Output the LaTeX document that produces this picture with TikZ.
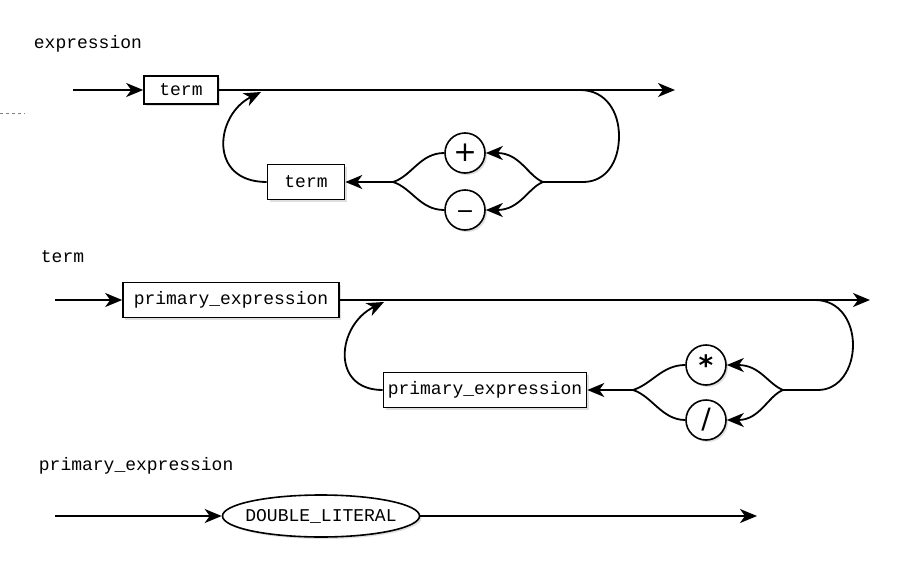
\documentclass[tikz,border=0pt]{standalone}
\usepackage{fontspec}
\setmonofont{Liberation Mono}
\newfontfamily\symfont{DejaVu Sans}
\usetikzlibrary{arrows.meta,shapes.geometric,shadows}

\tikzset{
    rulename/.style={font=\fontsize{18}{20}\selectfont\ttfamily, anchor=west, inner sep=0pt},
    nonterm/.style={draw, line width=1.6pt, fill=white, font=\fontsize{18}{20}\selectfont\ttfamily,
        minimum height=35pt, inner sep=1pt,
        drop shadow={shadow xshift=2pt, shadow yshift=-2pt, opacity=0.25}},
    literal/.style={nonterm, ellipse, inner xsep=-6pt, inner ysep=6pt},
    op/.style={draw, circle, line width=1.6pt, fill=white, minimum size=40pt, inner sep=0pt,
        font=\fontsize{28}{28}\selectfont\symfont,
        drop shadow={shadow xshift=2pt, shadow yshift=-2pt, opacity=0.25}},
}

\begin{document}
\begin{tikzpicture}[x=1pt,y=-1pt,line width=1.8pt,>={Stealth[length=17pt,width=14pt,inset=5pt]}]
    \useasboundingbox (0,0) rectangle (905,562);
    % stray mark at the left edge
    \draw[gray,dashed,line width=0.6pt] (0,113) -- (25,113);

    % expression
    \node[rulename] (lbl1) at (33,44) {expression};
    \coordinate (e0) at (73,90);
    \coordinate (e1) at (675,90);
    \coordinate (e2) at (580,90);
    \coordinate (r1) at (543,182);
    \coordinate (l1) at (393,182);
    \coordinate (back1) at (261,92);
    \node[nonterm, minimum width=74pt, minimum height=28pt] (term1) at (181,90) {term};
    \node[nonterm, minimum width=77pt] (term2) at (306,182) {term};
    \node[op] (plus) at (465,153) {+};
    \node[op] (minus) at (465,210) {\vphantom{+}{\fontsize{22}{22}\selectfont −}};
    \draw[->] (e0) -- (term1);
    \draw[->] (term1) -- (e1);
    \draw (e2) .. controls (606,90) and (619,112) .. (619,136)
               .. controls (619,162) and (606,182) .. (583,182) -- (r1);
    \draw[->] (r1) .. controls (528,176) and (520,153) .. (plus.east);
    \draw[->] (r1) .. controls (528,188) and (520,210) .. (minus.east);
    \draw (plus.west) .. controls (420,153) and (412,176) .. (l1);
    \draw (minus.west) .. controls (420,210) and (412,188) .. (l1);
    \draw[->] (l1) -- (term2.east);
    \draw[->] (term2.west) .. controls (208,182) and (215,115) .. (back1);

    % term
    \node[rulename] (lbl2) at (40,257) {term};
    \coordinate (t0) at (55,300);
    \coordinate (t1) at (870,300);
    \coordinate (t2) at (815,300);
    \coordinate (r2) at (783,390);
    \coordinate (l2) at (633,390);
    \coordinate (back2) at (384,302);
    \node[nonterm, minimum width=216pt] (prim1) at (231,300) {primary\_expression};
    \node[nonterm, minimum width=203pt] (prim2) at (485,390) {primary\_expression};
    \node[op] (times) at (706,365) {\textbf{\raisebox{-7pt}{*}}};
    \node[op] (divide) at (706,420) {/};
    \draw[->] (t0) -- (prim1);
    \draw[->] (prim1) -- (t1);
    \draw (t2) .. controls (840,300) and (853,322) .. (853,345)
               .. controls (853,368) and (840,390) .. (818,390) -- (r2);
    \draw[->] (r2) .. controls (768,384) and (760,365) .. (times.east);
    \draw[->] (r2) .. controls (768,396) and (760,420) .. (divide.east);
    \draw (times.west) .. controls (662,365) and (652,384) .. (l2);
    \draw (divide.west) .. controls (662,420) and (652,396) .. (l2);
    \draw[->] (l2) -- (prim2.east);
    \draw[->] (prim2.west) .. controls (330,390) and (337,325) .. (back2);

    % primary_expression
    \node[rulename] (lbl3) at (38,466) {primary\_expression};
    \coordinate (p0) at (55,516);
    \coordinate (p1) at (757,516);
    \node[literal, minimum width=197pt, minimum height=42pt] (dbl) at (321,516) {DOUBLE\_LITERAL};
    \draw[->] (p0) -- (dbl);
    \draw[->] (dbl) -- (p1);
\end{tikzpicture}
\end{document}
